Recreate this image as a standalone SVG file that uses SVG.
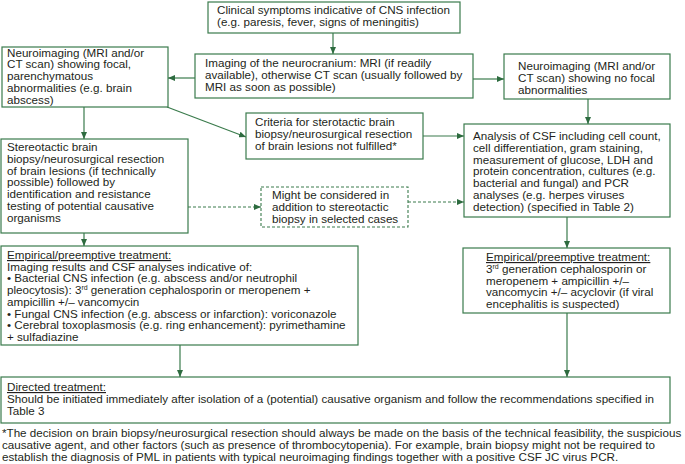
<svg xmlns="http://www.w3.org/2000/svg" width="685" height="464" viewBox="0 0 685 464">
<style>
.box{fill:#fff;stroke:#3a7b4c;stroke-width:1.2}
.dash{fill:#fff;stroke:#3a7b4c;stroke-width:1.1;stroke-dasharray:3 2}
.t{font-family:"Liberation Sans",Arial,sans-serif;font-size:11.65px;fill:#231f20}
.c{fill:none;stroke:#3a7b4c;stroke-width:1.2;marker-end:url(#ah)}
.cd{fill:none;stroke:#3a7b4c;stroke-width:1.1;stroke-dasharray:3 2;marker-end:url(#ah)}
.u{text-decoration:underline}
</style>
<defs>
<marker id="ah" markerUnits="userSpaceOnUse" markerWidth="7" markerHeight="6" refX="7" refY="3" orient="auto">
<path d="M0,0 L7,3 L0,6 z" fill="#2d6b3f"/>
</marker>
</defs>
<rect width="685" height="464" fill="#fff"/>
<g id="connectors">
<line class="c" x1="333" y1="33" x2="333" y2="54"/>
<line class="c" x1="195" y1="78" x2="168" y2="78"/>
<line class="c" x1="473" y1="79" x2="504" y2="79"/>
<line class="c" x1="84" y1="107" x2="84" y2="139"/>
<line class="c" x1="167" y1="107" x2="246" y2="137"/>
<line class="c" x1="423" y1="136" x2="464" y2="136"/>
<line class="c" x1="588" y1="99" x2="588" y2="124"/>
<line class="cd" x1="188" y1="207" x2="261" y2="207"/>
<line class="cd" x1="408" y1="202" x2="464" y2="202"/>
<line class="c" x1="84" y1="233" x2="84" y2="246"/>
<line class="c" x1="180" y1="345" x2="180" y2="377"/>
<line class="c" x1="567" y1="217" x2="567" y2="248"/>
<line class="c" x1="567" y1="313" x2="567" y2="377"/>
</g>
<g id="clinical">
<rect class="box" x="208" y="2" width="252" height="31"/>
<text class="t" x="217" y="14">Clinical symptoms indicative of CNS infection</text>
<text class="t" x="217" y="26">(e.g. paresis, fever, signs of meningitis)</text>
</g>
<g id="imaging">
<rect class="box" x="195" y="54" width="278" height="44"/>
<text class="t" x="205" y="67">Imaging of the neurocranium: MRI (if readily</text>
<text class="t" x="205" y="79">available), otherwise CT scan (usually followed by</text>
<text class="t" x="205" y="91">MRI as soon as possible)</text>
</g>
<g id="focal">
<rect class="box" x="2" y="47" width="166" height="60"/>
<text class="t" x="7" y="56.5">Neuroimaging (MRI and/or</text>
<text class="t" x="7" y="68.3">CT scan) showing focal,</text>
<text class="t" x="7" y="80.1">parenchymatous</text>
<text class="t" x="7" y="91.9">abnormalities (e.g. brain</text>
<text class="t" x="7" y="103.7">abscess)</text>
</g>
<g id="nofocal">
<rect class="box" x="504" y="54" width="166" height="45"/>
<text class="t" x="518" y="70">Neuroimaging (MRI and/or</text>
<text class="t" x="518" y="82">CT scan) showing no focal</text>
<text class="t" x="518" y="94">abnormalities</text>
</g>
<g id="criteria">
<rect class="box" x="246" y="113" width="177" height="46"/>
<text class="t" x="255" y="126">Criteria for sterotactic brain</text>
<text class="t" x="255" y="138">biopsy/neurosurgical resection</text>
<text class="t" x="255" y="150">of brain lesions not fulfilled*</text>
</g>
<g id="csf">
<rect class="box" x="464" y="124" width="206" height="93"/>
<text class="t" x="473" y="140">Analysis of CSF including cell count,</text>
<text class="t" x="473" y="151.8">cell differentiation, gram staining,</text>
<text class="t" x="473" y="163.6">measurement of glucose, LDH and</text>
<text class="t" x="473" y="175.4">protein concentration, cultures (e.g.</text>
<text class="t" x="473" y="187.2">bacterial and fungal) and PCR</text>
<text class="t" x="473" y="199">analyses (e.g. herpes viruses</text>
<text class="t" x="473" y="210.8">detection) (specified in Table 2)</text>
</g>
<g id="biopsy">
<rect class="box" x="1" y="139" width="187" height="94"/>
<text class="t" x="7" y="151">Stereotactic brain</text>
<text class="t" x="7" y="162.8">biopsy/neurosurgical resection</text>
<text class="t" x="7" y="174.6">of brain lesions (if technically</text>
<text class="t" x="7" y="186.4">possible) followed by</text>
<text class="t" x="7" y="198.2">identification and resistance</text>
<text class="t" x="7" y="210">testing of potential causative</text>
<text class="t" x="7" y="221.8">organisms</text>
</g>
<g id="considered">
<rect class="dash" x="261" y="187" width="147" height="40"/>
<text class="t" x="272" y="199">Might be considered in</text>
<text class="t" x="272" y="211">addition to stereotactic</text>
<text class="t" x="272" y="223">biopsy in selected cases</text>
</g>
<g id="empirical-left">
<rect class="box" x="1" y="246" width="357" height="99"/>
<text class="t u" x="7" y="259">Empirical/preemptive treatment:</text>
<text class="t" x="7" y="270.7">Imaging results and CSF analyses indicative of:</text>
<text class="t" x="7" y="282.4">• Bacterial CNS infection (e.g. abscess and/or neutrophil</text>
<text class="t" x="7" y="294.1">pleocytosis): 3<tspan dy="-4" font-size="7">rd</tspan><tspan dy="4"> generation cephalosporin or meropenem +</tspan></text>
<text class="t" x="7" y="305.8">ampicillin +/– vancomycin</text>
<text class="t" x="7" y="317.5">• Fungal CNS infection (e.g. abscess or infarction): voriconazole</text>
<text class="t" x="7" y="329.2">• Cerebral toxoplasmosis (e.g. ring enhancement): pyrimethamine</text>
<text class="t" x="7" y="340.9">+ sulfadiazine</text>
</g>
<g id="empirical-right">
<rect class="box" x="463" y="248" width="207" height="65"/>
<text class="t u" x="486" y="261">Empirical/preemptive treatment:</text>
<text class="t" x="486" y="272.8">3<tspan dy="-4" font-size="7">rd</tspan><tspan dy="4"> generation cephalosporin or</tspan></text>
<text class="t" x="486" y="284.6">meropenem + ampicillin +/–</text>
<text class="t" x="486" y="296.4">vancomycin +/– acyclovir (if viral</text>
<text class="t" x="486" y="308.2">encephalitis is suspected)</text>
</g>
<g id="directed">
<rect class="box" x="1" y="377" width="669" height="46"/>
<text class="t u" x="7" y="391">Directed treatment:</text>
<text class="t" x="7" y="402.8">Should be initiated immediately after isolation of a (potential) causative organism and follow the recommendations specified in</text>
<text class="t" x="7" y="414.6">Table 3</text>
</g>
<g id="footnote">
<text class="t" x="2" y="437">*The decision on brain biopsy/neurosurgical resection should always be made on the basis of the technical feasibility, the suspicious</text>
<text class="t" x="2" y="449">causative agent, and other factors (such as presence of thrombocytopenia). For example, brain biopsy might not be required to</text>
<text class="t" x="2" y="461">establish the diagnosis of PML in patients with typical neuroimaging findings together with a positive CSF JC virus PCR.</text>
</g>
</svg>
